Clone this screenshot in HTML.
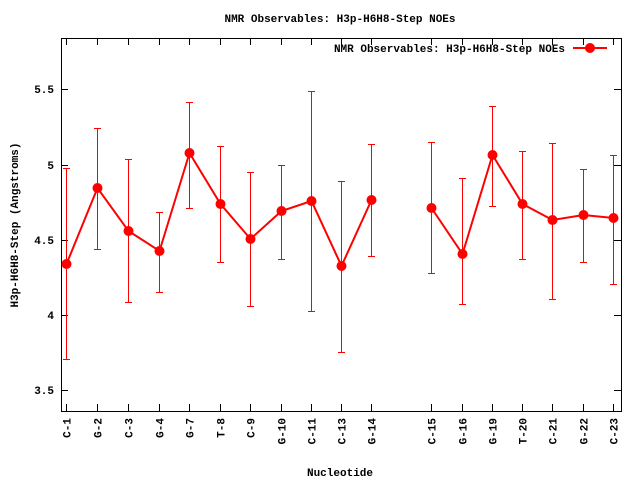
<!DOCTYPE html>
<html><head><style>
body{margin:0;background:#fff;}
svg text{font-family:"Liberation Mono","DejaVu Sans Mono",monospace;font-size:11px;font-weight:bold;fill:#000;}
</style></head><body>
<svg width="640" height="480" xmlns="http://www.w3.org/2000/svg">
<rect width="640" height="480" fill="#fff"/>
<text x="340" y="22" text-anchor="middle">NMR Observables: H3p-H6H8-Step NOEs</text>
<rect x="61.5" y="38.5" width="560" height="373" fill="none" stroke="#000" stroke-width="1"/>
<g stroke="#000" stroke-width="1">
<path d="M61 390.5h7M621 390.5h-7M61 315.5h7M621 315.5h-7M61 240.5h7M621 240.5h-7M61 165.5h7M621 165.5h-7M61 89.5h7M621 89.5h-7"/>
<path d="M66.5 411v-7M66.5 38v7M97.5 411v-7M97.5 38v7M128.5 411v-7M128.5 38v7M159.5 411v-7M159.5 38v7M189.5 411v-7M189.5 38v7M220.5 411v-7M220.5 38v7M250.5 411v-7M250.5 38v7M281.5 411v-7M281.5 38v7M311.5 411v-7M311.5 38v7M341.5 411v-7M341.5 38v7M371.5 411v-7M371.5 38v7M431.5 411v-7M431.5 38v7M462.5 411v-7M462.5 38v7M492.5 411v-7M492.5 38v7M522.5 411v-7M522.5 38v7M552.5 411v-7M552.5 38v7M583.5 411v-7M583.5 38v7M613.5 411v-7M613.5 38v7"/>
</g>
<g text-anchor="end">
<text x="54" y="394">3.5</text><text x="54" y="319">4</text><text x="54" y="244">4.5</text><text x="54" y="169">5</text><text x="54" y="93">5.5</text>
</g>
<text transform="translate(18,225) rotate(-90)" text-anchor="middle">H3p-H6H8-Step (Angstroms)</text>
<text x="340" y="476" text-anchor="middle">Nucleotide</text>
<g text-anchor="end">
<text transform="translate(70.5,418) rotate(-90)">C-1</text>
<text transform="translate(101.5,418) rotate(-90)">G-2</text>
<text transform="translate(132.5,418) rotate(-90)">C-3</text>
<text transform="translate(163.5,418) rotate(-90)">G-4</text>
<text transform="translate(193.5,418) rotate(-90)">G-7</text>
<text transform="translate(224.5,418) rotate(-90)">T-8</text>
<text transform="translate(254.5,418) rotate(-90)">C-9</text>
<text transform="translate(285.5,418) rotate(-90)">G-10</text>
<text transform="translate(315.5,418) rotate(-90)">C-11</text>
<text transform="translate(345.5,418) rotate(-90)">C-13</text>
<text transform="translate(375.5,418) rotate(-90)">G-14</text>
<text transform="translate(435.5,418) rotate(-90)">C-15</text>
<text transform="translate(466.5,418) rotate(-90)">G-16</text>
<text transform="translate(496.5,418) rotate(-90)">G-19</text>
<text transform="translate(526.5,418) rotate(-90)">T-20</text>
<text transform="translate(556.5,418) rotate(-90)">C-21</text>
<text transform="translate(587.5,418) rotate(-90)">G-22</text>
<text transform="translate(617.5,418) rotate(-90)">C-23</text>
</g>
<g stroke="#f00" stroke-width="1" fill="none">
<path d="M66.5 168V359M63 168.5h7M63 359.5h7
M97.5 128V249M94 128.5h7M94 249.5h7
M128.5 159V302M125 159.5h7M125 302.5h7
M159.5 212V292M156 212.5h7M156 292.5h7
M189.5 102V208M186 102.5h7M186 208.5h7
M220.5 146V262M217 146.5h7M217 262.5h7
M250.5 172V306M247 172.5h7M247 306.5h7
M281.5 165V259M278 165.5h7M278 259.5h7
M311.5 91V311M308 91.5h7M308 311.5h7
M341.5 181V352M338 181.5h7M338 352.5h7
M371.5 144V256M368 144.5h7M368 256.5h7
M431.5 142V273M428 142.5h7M428 273.5h7
M462.5 178V304M459 178.5h7M459 304.5h7
M492.5 106V206M489 106.5h7M489 206.5h7
M522.5 151V259M519 151.5h7M519 259.5h7
M552.5 143V299M549 143.5h7M549 299.5h7
M583.5 169V262M580 169.5h7M580 262.5h7
M613.5 155V284M610 155.5h7M610 284.5h7"/>
</g>
<g stroke="#f00" stroke-width="2" fill="none">
<polyline points="66.5,264 97.5,188 128.5,231 159.5,251 189.5,153 220.5,204 250.5,239 281.5,211 311.5,201 341.5,266 371.5,200"/>
<polyline points="431.5,208 462.5,254 492.5,155 522.5,204 552.5,220 583.5,215 613.5,218"/>
</g>
<g fill="#f00">
<circle cx="66.5" cy="264" r="5"/><circle cx="97.5" cy="188" r="5"/><circle cx="128.5" cy="231" r="5"/><circle cx="159.5" cy="251" r="5"/><circle cx="189.5" cy="153" r="5"/><circle cx="220.5" cy="204" r="5"/><circle cx="250.5" cy="239" r="5"/><circle cx="281.5" cy="211" r="5"/><circle cx="311.5" cy="201" r="5"/><circle cx="341.5" cy="266" r="5"/><circle cx="371.5" cy="200" r="5"/>
<circle cx="431.5" cy="208" r="5"/><circle cx="462.5" cy="254" r="5"/><circle cx="492.5" cy="155" r="5"/><circle cx="522.5" cy="204" r="5"/><circle cx="552.5" cy="220" r="5"/><circle cx="583.5" cy="215" r="5"/><circle cx="613.5" cy="218" r="5"/>
</g>
<text x="565" y="52" text-anchor="end">NMR Observables: H3p-H6H8-Step NOEs</text>
<line x1="573" y1="48" x2="607" y2="48" stroke="#f00" stroke-width="2"/>
<circle cx="590" cy="48" r="5" fill="#f00"/>
</svg>
</body></html>
